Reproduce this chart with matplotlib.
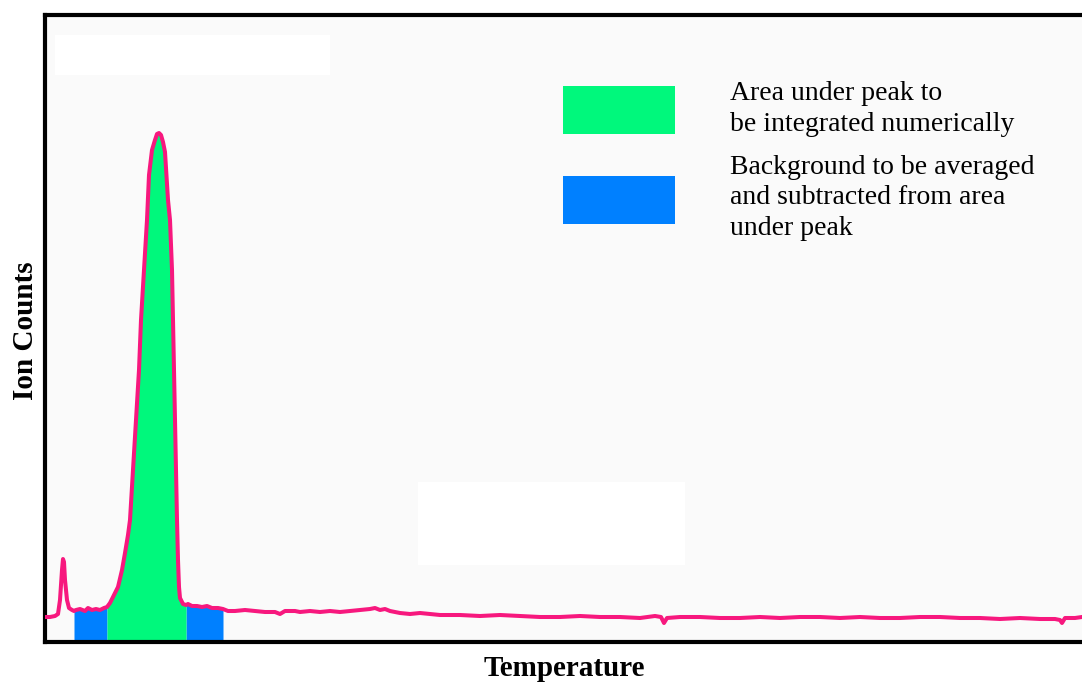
import numpy as np
import matplotlib
matplotlib.use("Agg")
import matplotlib.pyplot as plt
from matplotlib.patches import Rectangle

# ---- data (temperature in arbitrary units, ion counts in arbitrary units) ----
temperature = [0, 5, 10, 13, 15, 17, 18, 19, 20, 22, 24, 27, 29, 31, 35, 40, 43, 47, 51, 55, 59,
               62, 65, 68, 70, 73, 77, 80, 83, 85, 88, 91, 94, 96, 99, 102, 104, 107, 110, 112,
               114, 116, 118, 120, 123, 125, 127, 128, 129, 130, 131, 132, 133, 134, 135, 138,
               141, 143, 147, 152, 157, 162, 167, 173, 178, 183, 190, 200, 210, 220, 230, 235,
               240, 250, 255, 265, 275, 285, 295, 305, 315, 325, 330, 335, 340, 345, 355, 365,
               375, 385, 395, 415, 435, 455, 475, 495, 515, 535, 555, 575, 595, 610, 616, 619,
               622, 635, 655, 675, 695, 715, 735, 755, 775, 795, 815, 835, 855, 875, 895, 915,
               935, 955, 975, 995, 1010, 1015, 1017, 1020, 1030, 1037]
ion_counts = [25, 25, 26, 28, 42, 72, 83, 80, 62, 42, 34, 32, 31, 32, 33, 31, 34, 32, 33, 32, 34,
              35, 39, 45, 49, 55, 72, 89, 107, 122, 172, 222, 272, 322, 372, 422, 467, 492, 502, 508,
              509, 507, 500, 490, 442, 422, 372, 322, 272, 222, 172, 122, 82, 55, 44, 38,
              37, 38, 36, 36, 35, 36, 34, 34, 33, 31, 31, 32, 31, 30, 30, 28,
              31, 31, 30, 31, 30, 31, 30, 31, 32, 33, 34, 32, 33, 31, 29, 28,
              29, 28, 27, 27, 26, 27, 26, 25, 25, 26, 25, 25, 24, 26, 25, 19,
              24, 25, 25, 24, 24, 25, 24, 25, 25, 24, 25, 24, 24, 25, 25, 24,
              24, 23, 24, 23, 23, 22, 19, 24, 24, 25]

background_left = (29, 62)
peak_region = (62, 141)
background_right = (141, 178)

legend_labels = ["Area under peak to\nbe integrated numerically",
                 "Background to be averaged\nand subtracted from area\nunder peak"]
x_label = "Temperature"
y_label = "Ion Counts"

line_color = "#f7187e"
peak_color = "#00f87c"
bg_color = "#0080ff"

# ---- figure ----
W, H = 1082, 682
fig = plt.figure(figsize=(W / 100, H / 100), dpi=100)
left_px, right_px, top_px, bottom_px = 45, 1086, 15, 642
ax = fig.add_axes([left_px / W, 1 - bottom_px / H, (right_px - left_px) / W, (bottom_px - top_px) / H])
ax.set_facecolor("#fafafa")

T = np.array(temperature, dtype=float)
C = np.array(ion_counts, dtype=float)

# blank (erased) areas
ax.add_patch(Rectangle((0.0096, 0.904), 0.264, 0.064, transform=ax.transAxes,
                       facecolor="white", edgecolor="none", zorder=0.5))
ax.add_patch(Rectangle((0.358, 0.1228), 0.2565, 0.132, transform=ax.transAxes,
                       facecolor="white", edgecolor="none", zorder=0.5))

ax.fill_between(T, 0, C, where=(T >= background_left[0]) & (T <= background_left[1]),
                color=bg_color, linewidth=0, zorder=1)
ax.fill_between(T, 0, C, where=(T >= background_right[0]) & (T <= background_right[1]),
                color=bg_color, linewidth=0, zorder=1)
ax.fill_between(T, 0, C, where=(T >= peak_region[0]) & (T <= peak_region[1]),
                color=peak_color, linewidth=0, zorder=1.5)
ax.plot(T, C, color=line_color, lw=2.9, solid_joinstyle="round", zorder=3)

ax.set_xlim(0, right_px - left_px)
ax.set_ylim(0, bottom_px - top_px)
ax.set_xticks([])
ax.set_yticks([])
for s in ax.spines.values():
    s.set_linewidth(3)
    s.set_color("black")

font = "Liberation Serif"
ax.set_xlabel(x_label, fontfamily=font, fontweight="bold", fontsize=21, va="baseline")
ax.xaxis.set_label_coords(0.4985, -0.0535)
ax.set_ylabel(y_label, fontfamily=font, fontweight="bold", fontsize=21, va="baseline")
ax.yaxis.set_label_coords(-0.0115, 0.496)

# legend (manual)
ax.add_patch(Rectangle((0.4976, 0.810), 0.1076, 0.0766, transform=ax.transAxes,
                       facecolor=peak_color, edgecolor="none", zorder=4))
ax.add_patch(Rectangle((0.4976, 0.6667), 0.1076, 0.0766, transform=ax.transAxes,
                       facecolor=bg_color, edgecolor="none", zorder=4))
# va="baseline" on multi-line text anchors the last line's baseline
ax.text(0.658, 0.815, legend_labels[0], transform=ax.transAxes, fontfamily=font,
        fontsize=20, va="baseline", ha="left", linespacing=1.3)
ax.text(0.658, 0.649, legend_labels[1], transform=ax.transAxes, fontfamily=font,
        fontsize=20, va="baseline", ha="left", linespacing=1.3)

fig.savefig("out.png", dpi=100, facecolor="white")
